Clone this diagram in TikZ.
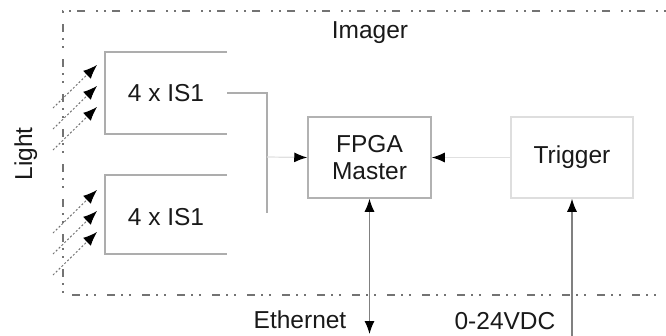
\documentclass[tikz,border=0pt]{standalone}
\usepackage{fontspec}
\setmainfont{Liberation Sans}
\usetikzlibrary{arrows.meta}
\begin{document}
\begin{tikzpicture}[x=1pt,y=-1pt,
  every node/.style={font=\fontsize{24.5}{27}\selectfont, text=black!90, inner sep=0pt},
  blk/.style={minimum width=123pt, minimum height=81pt, align=center},
  boxline/.style={draw=black!32, line width=1.5pt},
  frame/.style={draw=black!55, line width=1.6pt, dash pattern=on 8pt off 6pt on 2pt off 6pt on 2pt off 11pt},
  ray/.style={draw=black!55, line width=1pt, dash pattern=on 2pt off 2pt, -{Latex[length=14pt,width=11pt,black]}},
  conn/.style={draw=black!32, line width=1.5pt},
  faint/.style={draw=black!12, line width=1.2pt, -{Latex[length=13pt,width=10pt,black]}},
  io/.style={draw=black!50, line width=1.2pt},
  tip/.style={-{Latex[length=13pt,width=10pt,black]}},
  tips2/.style={{Latex[length=13pt,width=10pt,black]}-{Latex[length=13pt,width=10pt,black]}}
]
\useasboundingbox (0,0) rectangle (666,335);
% frame
\draw[frame] (680,11) -- (63,11) -- (63,295) -- (680,295);
\node (imager) at (370,33) {Imager};
\node[rotate=90, anchor=base] (light) at (32,154) {Light};
% IS1 blocks
\node[minimum width=122pt, minimum height=82pt] (is1a) at (166,93) {};
\node at (166,93) {4 x IS1};
\node[minimum width=122pt, minimum height=79pt] (is1b) at (166,214.5) {};
\node at (166,217) {4 x IS1};
\draw[boxline] (is1a.north east) -- (is1a.north west) -- (is1a.south west) -- (is1a.south east);
\draw[boxline] (is1b.north east) -- (is1b.north west) -- (is1b.south west) -- (is1b.south east);
% FPGA and Trigger
\node[blk, draw=black!30, line width=1.5pt] (fpga) at (369.5,157.5) {FPGA\\Master};
\node[blk, draw=black!13, line width=1.5pt, minimum width=122pt] (trig) at (572,157.5) {Trigger};
% light rays
\foreach \y in {0,21,42} {
  \coordinate (ra\y) at (53,108+\y);
  \coordinate (rb\y) at (97,65+\y);
  \draw[ray] (ra\y) -- (rb\y);
  \coordinate (rc\y) at (53,233+\y);
  \coordinate (rd\y) at (97,190+\y);
  \draw[ray] (rc\y) -- (rd\y);
}
% IS1 output
\coordinate (j1) at (267,93);
\coordinate (j2) at (267,213);
\coordinate (j3) at (267,157);
\draw[conn] (is1a.east) -- (j1) -- (j2);
\draw[faint] (j3) -- (fpga.west);
% trigger to fpga
\draw[faint] (trig.west) -- (fpga.east);
% ethernet
\coordinate (eth) at (369.5,334);
\draw[io, tips2] (fpga.south) -- (eth);
\node (ethl) at (300,320) {Ethernet};
% power
\coordinate (pwr) at (572,345);
\draw[io, tip] (pwr) -- (trig.south);
\node (pwrl) at (505,321) {0-24VDC};
\end{tikzpicture}
\end{document}
